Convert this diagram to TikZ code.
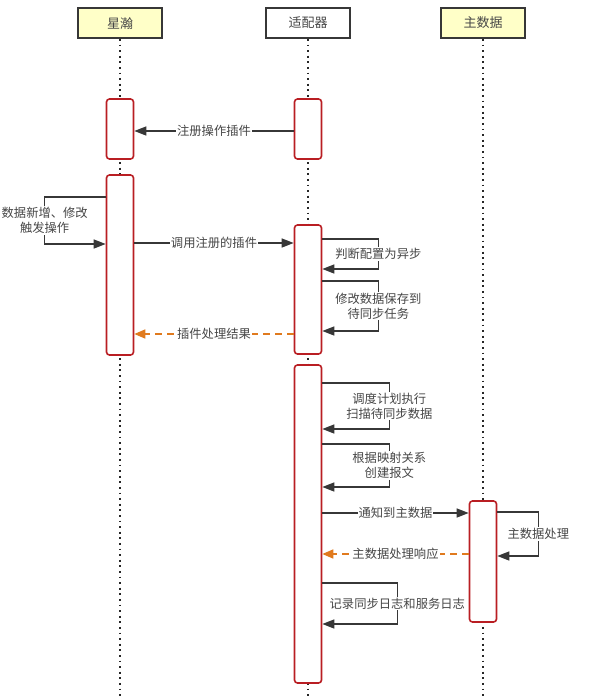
\documentclass[tikz,border=0pt]{standalone}
\usepackage{fontspec}
\setmainfont{Noto Sans CJK SC}
\usetikzlibrary{arrows.meta}
\usetikzlibrary{shadows}

\definecolor{actred}{RGB}{185,30,35}
\definecolor{linegray}{RGB}{55,55,55}
\definecolor{textgray}{RGB}{70,70,70}
\definecolor{replyorange}{RGB}{224,122,30}
\definecolor{headyellow}{RGB}{255,255,200}

\tikzset{
  head/.style={draw=linegray, line width=1.8pt, minimum width=84pt, minimum height=30pt,
    font=\fontsize{13}{15}\selectfont, text=textgray,
    drop shadow={shadow xshift=1.2pt, shadow yshift=-1.2pt, fill=gray!50}},
  life/.style={draw=black!85, line width=1.8pt, dash pattern=on 1.8pt off 3.8pt},
  act/.style={draw=actred, line width=1.6pt, fill=white, rounded corners=3pt,
    minimum width=27pt, inner sep=0pt},
  msg/.style={draw=linegray, line width=1.4pt, -{Triangle[length=12pt,width=9pt]}},
  reply/.style={draw=replyorange, line width=1.6pt, dash pattern=on 7pt off 5pt,
    -{Triangle[length=11pt,width=9pt]}},
  lbl/.style={fill=white, text=textgray, font=\fontsize{12.3}{15}\selectfont,
    align=center, inner sep=1pt}
}

\begin{document}
\begin{tikzpicture}[x=1pt,y=-1pt]
  \useasboundingbox (0,0) rectangle (592,697);
  % heads
  \node[head, fill=headyellow] (xh) at (120,23) {星瀚};
  \node[head, fill=white] (ad) at (308,23) {适配器};
  \node[head, fill=headyellow] (md) at (483,23) {主数据};
  % lifelines
  \draw[life] (xh.south) -- (xh.south |- 0,697);
  \draw[life] (ad.south) -- (ad.south |- 0,697);
  \draw[life] (md.south) -- (md.south |- 0,697);
  % activations
  \node[act, minimum height=60pt] (xa1) at (120,129) {};
  \node[act, minimum height=180pt] (xa2) at (120,265) {};
  \node[act, minimum height=60pt] (ad1) at (308,129) {};
  \node[act, minimum height=129pt] (ad2) at (308,289.5) {};
  \node[act, minimum height=318pt] (ad3) at (308,524) {};
  \node[act, minimum height=121pt] (md1) at (483,561.5) {};
  % messages
  \draw[msg] (ad1.west |- 0,131) -- node[lbl] (m1) {注册操作插件} (xa1.east |- 0,131);
  \draw[msg] (xa2.west |- 0,197) -- ++(-61,0)
    -- node[lbl] (m2) {数据新增、修改\\触发操作} ++(0,47) -- (xa2.west |- 0,244);
  \draw[msg] (xa2.east |- 0,243) -- node[lbl] (m3) {调用注册的插件} (ad2.west |- 0,243);
  \draw[msg] (ad2.east |- 0,239) -- ++(56,0)
    -- node[lbl] (m4) {判断配置为异步} ++(0,30) -- (ad2.east |- 0,269);
  \draw[msg] (ad2.east |- 0,281) -- ++(56,0)
    -- node[lbl] (m5) {修改数据保存到\\待同步任务} ++(0,50) -- (ad2.east |- 0,331);
  \draw[reply] (ad2.west |- 0,334) -- node[lbl] (m6) {插件处理结果} (xa2.east |- 0,334);
  \draw[msg] (ad3.east |- 0,383) -- ++(67,0)
    -- node[lbl] (m7) {调度计划执行\\扫描待同步数据} ++(0,46) -- (ad3.east |- 0,429);
  \draw[msg] (ad3.east |- 0,444) -- ++(67,0)
    -- node[lbl] (m8) {根据映射关系\\创建报文} ++(0,43) -- (ad3.east |- 0,487);
  \draw[msg] (ad3.east |- 0,513) -- node[lbl] (m9) {通知到主数据} (md1.west |- 0,513);
  \draw[msg] (md1.east |- 0,512) -- ++(41,0)
    -- node[lbl] (m10) {主数据处理} ++(0,44) -- (md1.east |- 0,556);
  \draw[reply] (md1.west |- 0,554) -- node[lbl] (m11) {主数据处理响应} (ad3.east |- 0,554);
  \draw[msg] (ad3.east |- 0,583) -- ++(75,0)
    -- node[lbl] (m12) {记录同步日志和服务日志} ++(0,41) -- (ad3.east |- 0,624);
\end{tikzpicture}
\end{document}
